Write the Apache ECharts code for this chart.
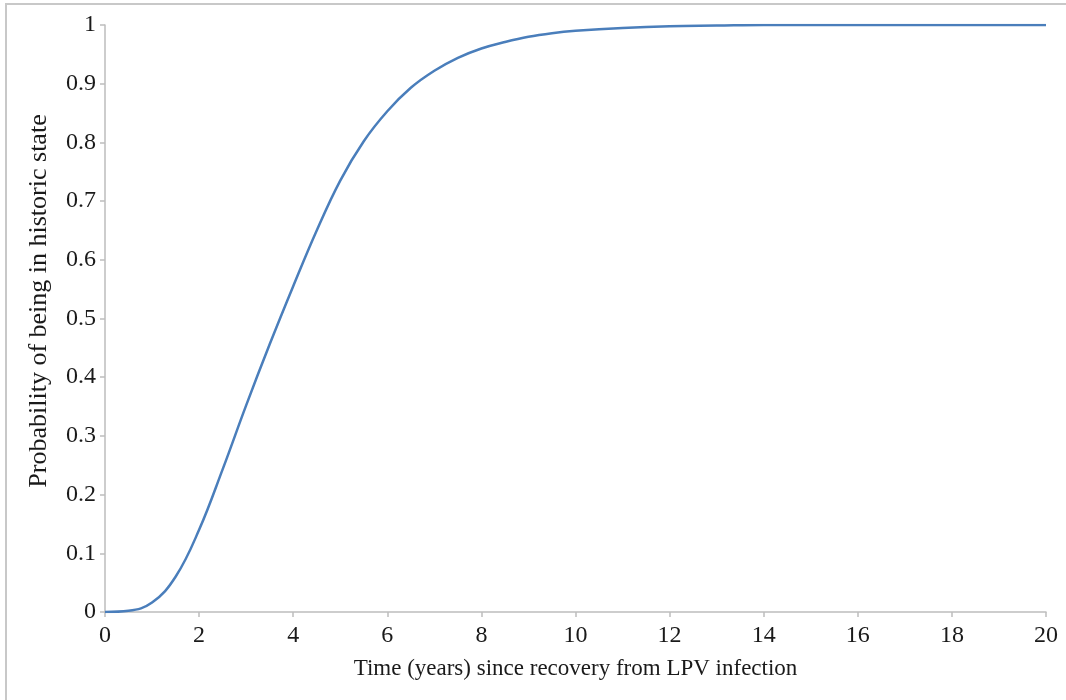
<!DOCTYPE html>
<html>
<head>
<meta charset="utf-8">
<script src="https://cdn.jsdelivr.net/npm/echarts@6/dist/echarts.min.js"></script>
<style>
html,body{margin:0;padding:0;background:#fff;}
#chart{width:1066px;height:700px;}
</style>
</head>
<body>
<div id="chart"></div>
<script>
// Data
var years = [0, 0.5, 1, 1.5, 2, 2.5, 3, 3.5, 4, 4.5, 5, 5.5, 6, 6.5, 7, 7.5, 8, 8.5, 9, 9.5, 10, 11, 12, 13, 14, 16, 18, 20];
var probability = [0, 0.002, 0.016, 0.060, 0.140, 0.243, 0.352, 0.456, 0.555, 0.650, 0.735, 0.802, 0.853, 0.893, 0.922, 0.944, 0.960, 0.971, 0.980, 0.986, 0.990, 0.995, 0.998, 0.999, 1, 1, 1, 1];
var xTitle = 'Time (years) since recovery from LPV infection';
var yTitle = 'Probability of being in historic state';

var seriesData = years.map(function (x, i) { return [x, probability[i]]; });
var font = '"Liberation Serif", "Times New Roman", serif';

var chart = echarts.init(document.getElementById('chart'));
chart.setOption({
  animation: false,
  backgroundColor: '#fff',
  graphic: [{
    type: 'rect',
    shape: { x: 6, y: 4, width: 1080, height: 720 },
    style: { fill: 'none', stroke: '#c8c8c8', lineWidth: 2 },
    silent: true
  }, {
    type: 'text',
    x: 39, y: 301,
    rotation: Math.PI / 2,
    style: {
      text: yTitle,
      fontFamily: font, fontSize: 26, fill: '#1a1a1a',
      align: 'center', verticalAlign: 'middle'
    },
    silent: true
  }],
  grid: { left: 105, right: 20, top: 25, bottom: 88, containLabel: false },
  xAxis: {
    type: 'value', min: 0, max: 20, interval: 2,
    name: xTitle, nameLocation: 'middle', nameGap: 45,
    nameTextStyle: { fontFamily: font, fontSize: 23, color: '#1a1a1a' },
    axisLine: { show: true, lineStyle: { color: '#bdbdbd', width: 1.5 } },
    axisTick: { show: true, inside: false, length: 5, lineStyle: { color: '#bdbdbd', width: 1.5 } },
    axisLabel: { fontFamily: font, fontSize: 24, color: '#1a1a1a', margin: 12 },
    splitLine: { show: false }
  },
  yAxis: {
    type: 'value', min: 0, max: 1, interval: 0.1,
    axisLine: { show: true, lineStyle: { color: '#bdbdbd', width: 1.5 } },
    axisTick: { show: true, inside: false, length: 5, lineStyle: { color: '#bdbdbd', width: 1.5 } },
    axisLabel: { fontFamily: font, fontSize: 24, color: '#1a1a1a', margin: 9 },
    splitLine: { show: false }
  },
  series: [{
    type: 'line',
    data: seriesData,
    smooth: 0.4,
    showSymbol: false,
    lineStyle: { color: '#4a7ebb', width: 2.5 }
  }]
});
</script>
</body>
</html>
